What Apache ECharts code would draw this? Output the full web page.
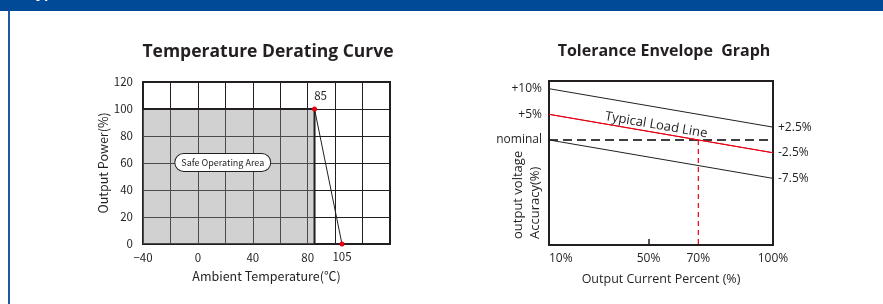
<!DOCTYPE html>
<html>
<head>
<meta charset="utf-8">
<script src="https://cdn.jsdelivr.net/npm/echarts@6/dist/echarts.min.js"></script>
<style>
  html, body { margin: 0; padding: 0; background: #fff; }
  #main { width: 883px; height: 304px; }
</style>
</head>
<body>
<div id="main"></div>
<script>
// 降额曲线数据
const tempX = [85, 105];
const powerY = [100, 0];
const safeX = [-40, 85, 85];
const safeY = [100, 100, 0];
const tempTicks = [-40, 0, 40, 80];
const powerTicks = [0, 20, 40, 60, 80, 100, 120];

// 容差包络数据
const loadX = [10, 100];
const upperY = [10, 2.5];
const typicalY = [5, -2.5];
const lowerY = [0, -7.5];
const nominalY = [0, 0];
const markX = [70, 70];
const markY = [0, -20.5];
const currentTicks = [10, 50, 70, 100];
const voltTicks = [10, 5, 0];
const voltTickText = { 10: '+10%', 5: '+5%', 0: 'nominal' };
const endText = ['+2.5%', '-2.5%', '-7.5%'];

const ink = '#231f20';
const red = '#e60012';
const fontL = '"Noto Sans CJK SC", "Noto Sans", sans-serif';
const fontR = '"Open Sans", "Noto Sans", sans-serif';

function pairs(xs, ys) {
  return xs.map((x, i) => [x, ys[i]]);
}

// 右侧末端标注
function endLabel(text) {
  return { show: true, distance: 5, color: ink, fontFamily: fontR, fontSize: 12, formatter: text };
}

const chart = echarts.init(document.getElementById('main'));
chart.setOption({
  animation: false,
  title: [
    {
      text: 'Temperature Derating Curve',
      left: 263, top: 38, textAlign: 'center',
      textStyle: { fontFamily: fontR, fontSize: 17.5, fontWeight: 'bold', color: ink }
    },
    {
      text: 'Tolerance Envelope  Graph',
      left: 659, top: 38, textAlign: 'center',
      textStyle: { fontFamily: fontR, fontSize: 16, fontWeight: 'bold', color: ink }
    }
  ],
  graphic: [
    { type: 'rect', shape: { x: 0, y: 0, width: 883, height: 11 }, style: { fill: '#004a97' } },
    { type: 'rect', shape: { x: 8, y: 11, width: 2, height: 293 }, style: { fill: '#1d5aa3' } },
    {
      type: 'text', x: 28, y: 1,
      style: { text: 'Typical Curves', fill: '#fff', font: 'bold 14px ' + fontR, textVerticalAlign: 'bottom' }
    },
    {
      type: 'text', x: 518, y: 239, rotation: Math.PI / 2,
      style: { text: 'output voltage', fill: ink, font: '13px ' + fontR, textAlign: 'left', textVerticalAlign: 'middle' }
    },
    {
      type: 'text', x: 535, y: 239, rotation: Math.PI / 2,
      style: { text: 'Accuracy(%)', fill: ink, font: '13px ' + fontR, textAlign: 'left', textVerticalAlign: 'middle' }
    }
  ],
  grid: [
    { left: 143, top: 82, width: 247, height: 162, show: true, borderColor: ink, borderWidth: 2, backgroundColor: 'transparent' },
    { left: 549, top: 81, width: 224, height: 164, show: true, borderColor: ink, borderWidth: 2, backgroundColor: 'transparent' }
  ],
  xAxis: [
    {
      type: 'value', gridIndex: 0, min: -40, max: 140, interval: 20,
      axisLine: { show: false, onZero: false }, axisTick: { show: false },
      splitLine: { show: true, lineStyle: { color: ink, width: 1 } },
      axisLabel: {
        color: ink, fontFamily: fontL, fontSize: 11.5, margin: 8,
        formatter: v => tempTicks.includes(v) ? (v < 0 ? '\u2212' + (-v) : String(v)) : ''
      },
      name: 'Ambient Temperature(\u2103)', nameLocation: 'middle', nameGap: 26,
      nameTextStyle: { color: ink, fontFamily: fontL, fontSize: 12.5 }
    },
    {
      type: 'value', gridIndex: 1, min: 10, max: 100,
      axisLine: { show: false, onZero: false },
      axisTick: { show: true, customValues: [50], inside: true, length: 6, lineStyle: { color: ink, width: 1.5 } },
      splitLine: { show: false },
      axisLabel: {
        customValues: currentTicks, color: ink, fontFamily: fontR, fontSize: 12, margin: 8,
        alignMinLabel: 'left',
        formatter: v => v + '%'
      },
      name: 'Output Current Percent (%)', nameLocation: 'middle', nameGap: 28,
      nameTextStyle: { color: ink, fontFamily: fontR, fontSize: 12.5 }
    }
  ],
  yAxis: [
    {
      type: 'value', gridIndex: 0, min: 0, max: 120, interval: 20,
      axisLine: { show: false, onZero: false }, axisTick: { show: false },
      splitLine: { show: true, lineStyle: { color: ink, width: 1 } },
      axisLabel: {
        color: ink, fontFamily: fontL, fontSize: 11.5, margin: 10,
        formatter: v => powerTicks.includes(v) ? String(v) : ''
      },
      name: 'Output Power(%)', nameLocation: 'middle', nameGap: 33,
      nameTextStyle: { color: ink, fontFamily: fontL, fontSize: 12.5 }
    },
    {
      type: 'value', gridIndex: 1, min: -20.5, max: 11.5,
      axisLine: { show: false, onZero: false }, axisTick: { show: false },
      splitLine: { show: false },
      axisLabel: {
        customValues: voltTicks, color: ink, fontFamily: fontR, fontSize: 12, margin: 7,
        formatter: v => voltTickText[v] || ''
      }
    }
  ],
  series: [
    {
      type: 'line', xAxisIndex: 0, yAxisIndex: 0,
      data: pairs(safeX, safeY), symbol: 'none',
      lineStyle: { color: ink, width: 2 },
      markArea: {
        silent: true,
        itemStyle: { color: 'rgba(140,140,140,0.4)' },
        label: {
          show: true, position: 'inside', offset: [-6, -14],
          color: ink, fontFamily: fontL, fontSize: 9,
          backgroundColor: '#fff', borderColor: ink, borderWidth: 1,
          borderRadius: 9, padding: [4, 6]
        },
        data: [[
          { name: 'Safe Operating Area', coord: [safeX[0], 0] },
          { coord: [safeX[1], safeY[0]] }
        ]]
      }
    },
    {
      type: 'line', xAxisIndex: 0, yAxisIndex: 0,
      data: pairs(tempX, powerY),
      symbol: 'circle', symbolSize: 5,
      itemStyle: { color: red },
      lineStyle: { color: ink, width: 1 },
      label: {
        show: true, color: ink, fontFamily: fontL, fontSize: 11.5,
        position: 'top',
        formatter: p => String(p.value[0])
      },
      labelLayout: p => (p.dataIndex === 1 ? { dy: 26 } : { dx: 6 })
    },
    {
      type: 'line', xAxisIndex: 1, yAxisIndex: 1,
      data: pairs(loadX, nominalY), symbol: 'none',
      lineStyle: { color: '#000', width: 1.5, type: [9, 5] }
    },
    {
      type: 'line', xAxisIndex: 1, yAxisIndex: 1,
      data: pairs(markX, markY), symbol: 'none',
      lineStyle: { color: red, width: 1.2, type: [5, 4] }
    },
    {
      type: 'line', xAxisIndex: 1, yAxisIndex: 1,
      data: pairs(loadX, upperY), symbol: 'none',
      lineStyle: { color: ink, width: 1 },
      endLabel: endLabel(endText[0])
    },
    {
      type: 'line', xAxisIndex: 1, yAxisIndex: 1,
      data: pairs(loadX, typicalY), symbol: 'none',
      lineStyle: { color: red, width: 1 },
      endLabel: endLabel(endText[1]),
      markLine: {
        silent: true, symbol: 'none',
        lineStyle: { color: red, width: 1, type: 'solid' },
        label: { show: true, position: 'insideMiddleTop', distance: 1, offset: [-6, 0], color: ink, fontFamily: fontR, fontSize: 13,
          formatter: 'Typical Load Line' },
        data: [[{ coord: [loadX[0], typicalY[0]] }, { coord: [loadX[1], typicalY[1]] }]]
      }
    },
    {
      type: 'line', xAxisIndex: 1, yAxisIndex: 1,
      data: pairs(loadX, lowerY), symbol: 'none',
      lineStyle: { color: ink, width: 1 },
      endLabel: endLabel(endText[2])
    }
  ]
});
</script>
</body>
</html>
